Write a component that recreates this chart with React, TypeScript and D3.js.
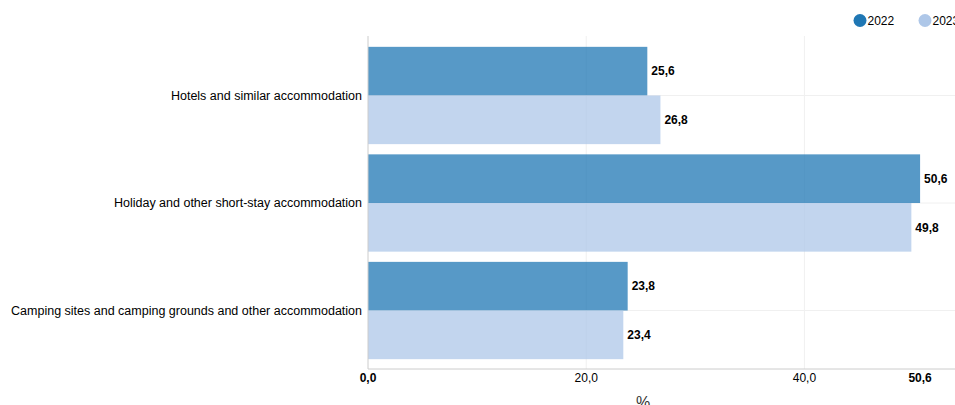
import React from "react";
import * as d3 from "d3";

const categories = [
  "Hotels and similar accommodation",
  "Holiday and other short-stay accommodation",
  "Camping sites and camping grounds and other accommodation",
];
const seriesNames = ["2022", "2023"];
const values2022 = [25.6, 50.6, 23.8];
const values2023 = [26.8, 49.8, 23.4];
const tickValues = [0, 20, 40, 50.6];
const boldTicks = [0, 50.6];
const axisTitle = "%";

const W = 955;
const H = 405;
const barColors = ["#1f77b4", "#aec7e8"];

const fmt = (v: number) => v.toFixed(1).replace(".", ",");

export default function App() {
  const x = d3.scaleLinear().domain([0, 53.8]).range([368, 955]);
  const y = d3.scaleBand<string>().domain(categories).range([42, 364]).paddingInner(0.095).paddingOuter(0.045);
  const sub = d3.scaleBand<string>().domain(seriesNames).range([0, y.bandwidth()]);
  const series = [values2022, values2023];
  const plotTop = 36;
  const plotBottom = 369;
  const font = "'Liberation Sans', Arial, sans-serif";
  const legendX = [860, 925];

  return (
    <svg width={W} height={H} style={{ position: "absolute", left: 0, top: 0 }} fontFamily={font}>
      <rect width={W} height={H} fill="#fff" />
      {/* vertical gridlines */}
      {[20, 40].map((t) => (
        <line key={t} x1={x(t)} x2={x(t)} y1={plotTop} y2={plotBottom} stroke="#f0f0f0" />
      ))}
      {/* horizontal gridlines at category centers */}
      {categories.map((c) => {
        const yc = (y(c) as number) + y.bandwidth() / 2;
        return <line key={c} x1={x(0)} x2={W} y1={yc} y2={yc} stroke="#f0f0f0" />;
      })}
      {/* bars */}
      {categories.map((c, i) =>
        seriesNames.map((s, j) => {
          const v = series[j][i];
          const by = (y(c) as number) + (sub(s) as number);
          return (
            <g key={c + s}>
              <rect x={x(0)} y={by} width={x(v) - x(0)} height={sub.bandwidth()} fill={barColors[j]} fillOpacity={0.75} />
              <text x={x(v) + 4} y={by + sub.bandwidth() / 2} dy="0.35em" fontSize={12} fontWeight="bold" fill="#000">
                {fmt(v)}
              </text>
            </g>
          );
        })
      )}
      {/* axes */}
      <line x1={x(0)} x2={x(0)} y1={plotTop} y2={plotBottom} stroke="#ccc" />
      <line x1={x(0)} x2={W} y1={plotBottom} y2={plotBottom} stroke="#ccc" />
      {tickValues.map((t) => (
        <text key={t} x={x(t)} y={382} textAnchor="middle" fontSize={12} fontWeight={boldTicks.includes(t) ? "bold" : "normal"} fill="#000">
          {fmt(t)}
        </text>
      ))}
      <text x={643} y={408} textAnchor="middle" fontSize={16} fill="#333">
        {axisTitle}
      </text>
      {/* category labels */}
      {categories.map((c) => (
        <text key={c} x={362} y={(y(c) as number) + y.bandwidth() / 2} dy="0.35em" textAnchor="end" fontSize={12.5} fill="#000">
          {c}
        </text>
      ))}
      {/* legend */}
      {seriesNames.map((s, j) => {
        const cx = legendX[j];
        return (
          <g key={s}>
            <circle cx={cx} cy={20.5} r={6.5} fill={barColors[j]} />
            <text x={cx + 4} dx={3.5} y={20.5} dy="0.35em" fontSize={12} fill="#000">
              {s}
            </text>
          </g>
        );
      })}
    </svg>
  );
}
